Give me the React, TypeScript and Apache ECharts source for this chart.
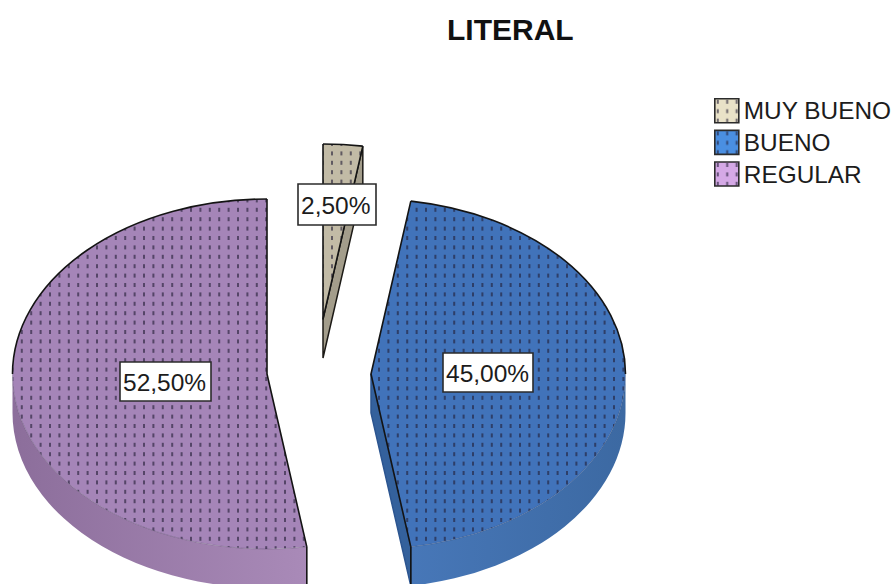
import React, { useEffect, useRef } from "react";
import * as echarts from "echarts";

const titleText = "LITERAL";
const categories = ["MUY BUENO", "BUENO", "REGULAR"];
const percentages = [2.5, 45, 52.5];

const topColours = ["#c2bba6", "#4173ba", "#a585b8"];
const sideColoursLeft = ["#a8a290", "#4777b8", "#8c6e9b"];
const sideColoursRight = ["#a8a290", "#3c69a2", "#a98ab8"];
const faceColours = ["#a39d8b", "#34619c", "#8c6e9b"];
const faceEdgeColours = ["#1c1a16", "#2c5590", "#6e5580"];
const legendColours = ["#e9e2c8", "#4a8fe2", "#d5a9e6"];

const apexX = [323, 371, 267];
const apexY = [319, 374, 374];
const labelBoxes = [
  [298, 184, 78, 41],
  [443, 353, 90, 39],
  [120, 362, 91, 39],
];
const RX = 254.5;
const RY = 175;
const DEPTH = 39;
const DOT_COLOUR = "rgba(35,30,55,0.62)";

function makeTile(bg: string | null, step: number, count: number, dotH: number) {
  const c = document.createElement("canvas");
  const size = Math.round(step * count);
  c.width = size;
  c.height = size;
  const g = c.getContext("2d")!;
  if (bg) {
    g.fillStyle = bg;
    g.fillRect(0, 0, size, size);
  }
  g.fillStyle = DOT_COLOUR;
  for (let i = 0; i < count; i++) {
    for (let j = 0; j < count; j++) {
      g.fillRect(3 + i * step - 1, 3 + j * step - dotH / 2, 2, dotH);
    }
  }
  return c;
}

function formatPct(v: number) {
  return v.toFixed(2).replace(".", ",") + "%";
}

export default function App() {
  const ref = useRef<HTMLDivElement>(null);
  useEffect(() => {
    const chart = echarts.init(ref.current!, null, { renderer: "svg" });
    const total = percentages.reduce((a, b) => a + b, 0);

    const series = categories.map((name, idx) => {
      const before = percentages.slice(0, idx).reduce((a, b) => a + b, 0);
      const tile = makeTile(topColours[idx], 9.4, 5, 4);
      return {
        type: "custom",
        name,
        coordinateSystem: "none",
        z: 2 + idx,
        itemStyle: { color: topColours[idx] },
        data: [[percentages[idx]]],
        silent: true,
        renderItem: (_p: any, api: any) => {
          const v = api.value(0) as number;
          const a0 = (before / total) * Math.PI * 2;
          const a1 = ((before + v) / total) * Math.PI * 2;
          const cx = apexX[idx];
          const cy = apexY[idx];
          const P = (a: number, dy = 0) => [cx + RX * Math.sin(a), cy - RY * Math.cos(a) + dy];
          const arc = (from: number, to: number, dy = 0) => {
            const e = P(to, dy);
            const large = Math.abs(to - from) > Math.PI ? 1 : 0;
            const sweep = to > from ? 1 : 0;
            return `A${RX} ${RY} 0 ${large} ${sweep} ${e[0]} ${e[1]}`;
          };
          const children: any[] = [];
          const line = "#141414";
          const strokeOnly = (d: string, colour = line, w = 1.6) => ({
            type: "path",
            shape: { pathData: d },
            style: { fill: "none", stroke: colour, lineWidth: w, lineJoin: "round" },
          });
          // outer rim, the visible part lies between 90 and 270 degrees
          const r0 = Math.max(a0, Math.PI / 2);
          const r1 = Math.min(a1, (Math.PI * 3) / 2);
          if (r1 > r0) {
            const s = P(r0);
            const e = P(r1, DEPTH);
            const minX = Math.min(s[0], e[0], r1 > Math.PI ? cx - RX : s[0]);
            const maxX = Math.max(s[0], e[0]);
            children.push({
              type: "path",
              shape: {
                pathData: `M${s[0]} ${s[1]} ${arc(r0, r1)} L${e[0]} ${e[1]} ${arc(r1, r0, DEPTH)} Z`,
              },
              style: {
                fill: {
                  type: "linear",
                  x: minX,
                  y: 0,
                  x2: maxX,
                  y2: 0,
                  global: true,
                  colorStops: [
                    { offset: 0, color: sideColoursLeft[idx] },
                    { offset: 1, color: sideColoursRight[idx] },
                  ],
                },
                stroke: "none",
              },
            });
          }
          // cut face at the slice's trailing edge
          const hasFace = Math.sin(a1) > 0.01;
          if (hasFace) {
            const e = P(a1);
            children.push({
              type: "path",
              shape: {
                pathData: `M${cx} ${cy} L${e[0]} ${e[1]} L${e[0]} ${e[1] + DEPTH} L${cx} ${cy + DEPTH} Z`,
              },
              style: { fill: faceColours[idx], stroke: faceEdgeColours[idx], lineWidth: 1.5 },
            });
          }
          // top surface
          const s = P(a0);
          const e = P(a1);
          children.push({
            type: "path",
            shape: { pathData: `M${cx} ${cy} L${s[0]} ${s[1]} ${arc(a0, a1)} Z` },
            style: { fill: { image: tile, repeat: "repeat" }, stroke: "none" },
          });
          // outlines: straight edges and the far half of the rim only
          const farEnd = Math.min(a1, Math.PI / 2);
          const farStart = Math.max(a0, (Math.PI * 3) / 2);
          children.push(strokeOnly(`M${s[0]} ${s[1]} L${cx} ${cy} L${e[0]} ${e[1]}`));
          if (farEnd > a0) {
            children.push(strokeOnly(`M${s[0]} ${s[1]} ${arc(a0, farEnd)}`));
          }
          if (a1 > farStart) {
            const fs = P(farStart);
            children.push(strokeOnly(`M${fs[0]} ${fs[1]} ${arc(farStart, a1)}`));
          }
          if (r1 > r0) {
            // faint near half of the rim, and the dark vertical corner
            const ns = P(r0);
            children.push(strokeOnly(`M${ns[0]} ${ns[1]} ${arc(r0, r1)}`, "rgba(30,30,50,0.22)", 1));
            const corner = P(a1 < Math.PI ? a1 : a0);
            if (corner[1] > cy) {
              children.push(strokeOnly(`M${corner[0]} ${corner[1]} L${corner[0]} ${corner[1] + DEPTH}`));
            }
          }
          // value label
          const [bx, by, bw, bh] = labelBoxes[idx];
          children.push({
            type: "rect",
            shape: { x: bx, y: by, width: bw, height: bh },
            style: { fill: "#ffffff", stroke: "#2b2b2b", lineWidth: 1.6 },
          });
          children.push({
            type: "text",
            x: bx + 3,
            y: by + bh / 2 + 1,
            style: {
              text: formatPct(v),
              fill: "#1c1c1c",
              font: '24.5px "Liberation Sans"',
              align: "left",
              verticalAlign: "middle",
            },
          });
          return { type: "group", children };
        },
      };
    });

    chart.setOption({
      animation: false,
      backgroundColor: "#ffffff",
      title: {
        text: titleText,
        left: 447,
        top: 14,
        padding: 0,
        textStyle: { fontFamily: "Liberation Sans", fontWeight: "bold", fontSize: 30, color: "#111" },
      },
      legend: {
        orient: "vertical",
        left: 714,
        top: 98,
        padding: 0,
        itemWidth: 24,
        itemHeight: 24,
        itemGap: 6,
        selectedMode: false,
        icon: "rect",
        textStyle: { fontFamily: "Liberation Sans", fontSize: 24.4, color: "#1c1c1c" },
        data: categories.map((name, i) => ({
          name,
          icon: "rect",
          itemStyle: {
            color: { image: makeTile(legendColours[i], 9.4, 5, 4), repeat: "repeat" },
            borderColor: "#2b2b2b",
            borderWidth: 1.6,
          },
        })),
      },
      series,
    } as any);
    return () => chart.dispose();
  }, []);
  return <div ref={ref} style={{ position: "fixed", left: 0, top: 0, width: 894, height: 584 }} />;
}
